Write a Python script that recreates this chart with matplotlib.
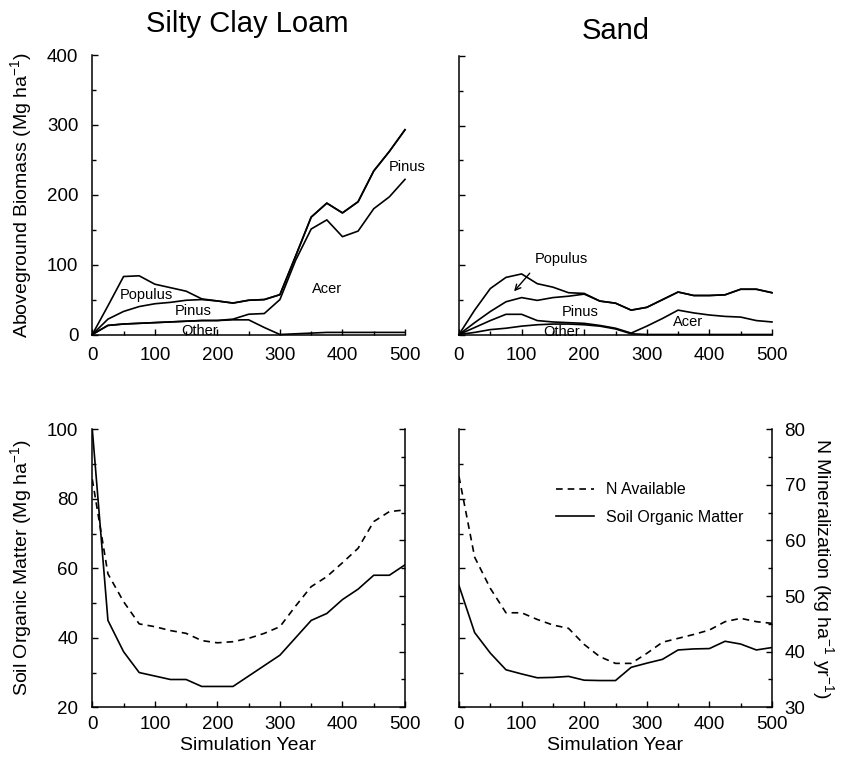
import numpy as np
import matplotlib
matplotlib.use('Agg')
import matplotlib.pyplot as plt
from matplotlib.ticker import MultipleLocator, NullFormatter

plt.rcParams['font.family'] = ['Liberation Sans', 'DejaVu Sans']
plt.rcParams['mathtext.fontset'] = 'custom'
plt.rcParams['mathtext.rm'] = 'Liberation Sans'
plt.rcParams['mathtext.it'] = 'Liberation Sans:italic'
plt.rcParams['mathtext.bf'] = 'Liberation Sans:bold'
plt.rcParams['mathtext.default'] = 'regular'

years = list(range(0, 501, 25))

# Aboveground biomass by genus (Mg/ha), stacked bottom->top: Other, Acer, Pinus, Populus
scl_other   = [0, 13, 15, 16, 17, 18, 19, 20, 20, 21, 21, 10, 0, 1, 2, 3, 3, 3, 3, 3, 3]
scl_acer    = [0, 0, 0, 0, 0, 0, 0, 0, 0, 1, 8, 20, 50, 105, 149, 161, 137, 145, 177, 194, 219]
scl_pinus   = [0, 9, 18, 24, 27, 28, 30, 30, 28, 23, 20, 20, 7, 6, 17, 24, 34, 42, 54, 65, 71]
scl_populus = [0, 19, 50, 44, 28, 21, 13, 1, 0, 0, 0, 0, 0, 0, 0, 0, 0, 0, 0, 0, 0]

sand_other   = [0, 3, 7, 9, 12, 14, 15, 15, 14, 12, 8, 1, 0, 0, 0, 0, 0, 0, 0, 0, 0]
sand_acer    = [0, 7, 13, 20, 17, 6, 3, 2, 2, 1, 1, 1, 12, 23, 35, 31, 28, 26, 25, 20, 18]
sand_pinus   = [0, 7, 13, 18, 24, 29, 35, 38, 42, 35, 36, 33, 27, 27, 26, 25, 28, 31, 40, 45, 42]
sand_populus = [0, 18, 33, 35, 34, 24, 15, 5, 1, 0, 0, 0, 0, 0, 0, 0, 0, 0, 0, 0, 0]

# Soil organic matter (Mg/ha, left axis) and N available (kg/ha/yr, right axis)
scl_som  = [100, 45, 36, 30, 29, 28, 28, 26, 26, 26, 29, 32, 35, 40, 45, 47, 51, 54, 58, 58, 61]
scl_n    = [71, 54, 49, 45, 44.5, 43.8, 43.3, 42, 41.6, 41.8, 42.4, 43.3, 44.5, 48.2, 51.7,
            53.5, 56, 58.6, 63.4, 65.2, 65.5]
sand_som = [55, 41.5, 35.6, 30.8, 29.6, 28.5, 28.6, 28.9, 27.8, 27.7, 27.7, 31.5, 32.7, 33.8,
            36.5, 36.8, 36.9, 39, 38.2, 36.5, 37.2]
sand_n   = [71.5, 57, 51.4, 47, 47, 45.8, 44.8, 44.2, 41.3, 39.1, 37.9, 37.9, 39.7, 41.7, 42.4,
            43.1, 43.9, 45.4, 46, 45.4, 45.1]

W, H = 843, 764
fig = plt.figure(figsize=(W / 100, H / 100), dpi=100)

def rect(x0, y0, x1, y1):
    return [x0 / W, 1 - y1 / H, (x1 - x0) / W, (y1 - y0) / H]

ax_tl = fig.add_axes(rect(92.3, 55, 405, 334.5))
ax_tr = fig.add_axes(rect(459, 56, 772, 334.5))
ax_bl = fig.add_axes(rect(92.3, 429.3, 405, 707.3))
ax_br = fig.add_axes(rect(459, 429.3, 772, 707.3))

LW = 1.2
TFS = 13.5

def base_style(ax, xpad):
    ax.spines['top'].set_visible(False)
    ax.spines['right'].set_visible(False)
    for s in ax.spines.values():
        s.set_linewidth(1.1)
    ax.set_xlim(0, 500)
    ax.xaxis.set_major_locator(MultipleLocator(100))
    ax.xaxis.set_minor_locator(MultipleLocator(50))
    ax.tick_params(which='both', direction='in', labelsize=TFS, width=1)
    ax.tick_params(which='major', length=4.5)
    ax.tick_params(which='minor', length=3)
    ax.tick_params(axis='x', pad=xpad)
    ax.tick_params(axis='y', pad=10)

# --- Top panels: stacked biomass lines ---
for ax, comps in [(ax_tl, [scl_other, scl_acer, scl_pinus, scl_populus]),
                  (ax_tr, [sand_other, sand_acer, sand_pinus, sand_populus])]:
    base_style(ax, 9)
    ax.set_ylim(0, 400)
    ax.yaxis.set_major_locator(MultipleLocator(100))
    ax.yaxis.set_minor_locator(MultipleLocator(50))
    cum = np.cumsum(np.array(comps, dtype=float), axis=0)
    for row in cum:
        ax.plot(years, row, color='k', lw=LW, clip_on=False)
ax_tr.yaxis.set_major_formatter(NullFormatter())

LFS = 10.5
ax_tl.text(86, 57, 'Populus', fontsize=LFS, ha='center', va='center')
ax_tl.text(162, 33, 'Pinus', fontsize=LFS, ha='center', va='center')
ax_tl.text(172, 5, 'Other', fontsize=LFS, ha='center', va='center')
ax_tl.text(375, 65, 'Acer', fontsize=LFS, ha='center', va='center')
ax_tl.text(503, 240, 'Pinus', fontsize=LFS, ha='center', va='center')

ax_tr.text(164, 108, 'Populus', fontsize=LFS, ha='center', va='center')
ax_tr.annotate('', xy=(88, 62), xytext=(113, 88),
               arrowprops=dict(arrowstyle='->', lw=1, color='k', shrinkA=0, shrinkB=0))
ax_tr.text(193, 32, 'Pinus', fontsize=LFS, ha='center', va='center')
ax_tr.text(164, 3, 'Other', fontsize=LFS, ha='center', va='center')
ax_tr.text(366, 18, 'Acer', fontsize=LFS, ha='center', va='center')

# --- Bottom panels: SOM and N availability ---
for ax, som, nav, show_right in [(ax_bl, scl_som, scl_n, False), (ax_br, sand_som, sand_n, True)]:
    base_style(ax, 6)
    ax.set_ylim(20, 100)
    ax.yaxis.set_major_locator(MultipleLocator(20))
    ax.yaxis.set_minor_locator(MultipleLocator(10))
    ax.plot(years, som, color='k', lw=LW, label='Soil Organic Matter')
    tw = ax.twinx()
    tw.set_ylim(30, 80)
    tw.set_xlim(0, 500)
    for side in ['top', 'left', 'bottom']:
        tw.spines[side].set_visible(False)
    tw.spines['right'].set_linewidth(1.1)
    tw.yaxis.set_major_locator(MultipleLocator(10))
    tw.yaxis.set_minor_locator(MultipleLocator(5))
    tw.tick_params(which='both', direction='in', labelsize=TFS, width=1, pad=9)
    tw.tick_params(which='major', length=4.5)
    tw.tick_params(which='minor', length=3)
    tw.plot(years, nav, color='k', lw=LW, linestyle=(0, (4, 3)), label='N Available')
    if not show_right:
        tw.yaxis.set_major_formatter(NullFormatter())
    else:
        tw.set_ylabel('N Mineralization (kg ha$^{-1}$ yr$^{-1}$)', fontsize=14,
                      rotation=270, labelpad=22)
        h1, l1 = tw.get_legend_handles_labels()
        h2, l2 = ax.get_legend_handles_labels()
        tw.legend(h1 + h2, l1 + l2, loc='upper left', bbox_to_anchor=(0.31, 0.81),
                  frameon=False, fontsize=11.5, handlelength=2.4, handletextpad=0.75,
                  labelspacing=0.8, borderpad=0, borderaxespad=0)
ax_br.yaxis.set_major_formatter(NullFormatter())

# Titles and axis labels
fig.text(247 / W, 1 - 32 / H, 'Silty Clay Loam', fontsize=21, ha='center', va='baseline')
fig.text(616 / W, 1 - 39 / H, 'Sand', fontsize=21, ha='center', va='baseline')
fig.text(21 / W, 1 - 195 / H, 'Aboveground Biomass (Mg ha$^{-1}$)', fontsize=14,
         rotation=90, ha='center', va='center')
fig.text(21 / W, 1 - 568 / H, 'Soil Organic Matter (Mg ha$^{-1}$)', fontsize=14,
         rotation=90, ha='center', va='center')
fig.text(248 / W, 1 - 746 / H, 'Simulation Year', fontsize=14, ha='center', va='center')
fig.text(615 / W, 1 - 746 / H, 'Simulation Year', fontsize=14, ha='center', va='center')

fig.savefig('out.png', dpi=100)
